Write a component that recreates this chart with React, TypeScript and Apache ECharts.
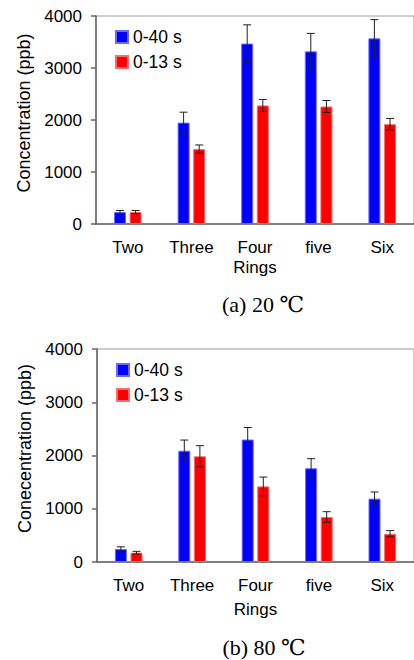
import React, { useEffect, useRef } from "react";
import * as echarts from "echarts";

const categories = ["Two", "Three", "Four", "five", "Six"];
const yTicks = [0, 1000, 2000, 3000, 4000];

const topBlue = [230, 1950, 3470, 3320, 3570];
const topBlueErr = [30, 200, 360, 345, 360];
const topRed = [230, 1440, 2280, 2260, 1920];
const topRedErr = [30, 80, 115, 115, 110];

const botBlue = [245, 2090, 2300, 1760, 1190];
const botBlueErr = [40, 200, 225, 180, 125];
const botRed = [175, 1985, 1420, 845, 530];
const botRedErr = [25, 200, 175, 100, 60];

const seriesNames = ["0-40 s", "0-13 s"];
const yNames = ["Concentration (ppb)", "Conecentration (ppb)"];
const xName = "Rings";
const captions = ["(a) 20 \u2103", "(b) 80 \u2103"];

const BLUE = "#0000ff";
const RED = "#ff0000";
const SANS = "'Liberation Sans', Arial, sans-serif";
const SERIF = "'Liberation Serif', 'DejaVu Serif', serif";
const BAR_W = 12;
const OFFSET = 7.8;

function errSeries(gridIdx: number, vals: number[], errs: number[], offset: number) {
  return {
    type: "custom",
    xAxisIndex: gridIdx,
    yAxisIndex: gridIdx,
    z: 10,
    silent: true,
    encode: { x: 0, y: 1 },
    data: vals.map((v, i) => [i, v, errs[i]]),
    renderItem: (params: any, api: any) => {
      const i = api.value(0);
      const v = api.value(1);
      const e = api.value(2);
      const hi = api.coord([i, v + e]);
      const lo = api.coord([i, v - e]);
      const x = hi[0] + offset;
      const st = { stroke: "#222", lineWidth: 1 };
      return {
        type: "group",
        children: [
          { type: "line", shape: { x1: x, y1: hi[1], x2: x, y2: lo[1] }, style: st },
          { type: "line", shape: { x1: x - 4, y1: hi[1], x2: x + 4, y2: hi[1] }, style: st },
          { type: "line", shape: { x1: x - 4, y1: lo[1], x2: x + 4, y2: lo[1] }, style: st },
        ],
      };
    },
  };
}

function barSeries(gridIdx: number, name: string, vals: number[], color: string, border: string) {
  return {
    type: "bar",
    name,
    xAxisIndex: gridIdx,
    yAxisIndex: gridIdx,
    data: vals,
    barWidth: BAR_W,
    barGap: "30%",
    itemStyle: { color, borderColor: border, borderWidth: 1 },
  };
}

export default function App() {
  const ref = useRef<HTMLDivElement>(null);
  useEffect(() => {
    if (!ref.current) return;
    const chart = echarts.init(ref.current, null, { renderer: "svg" });
    const axisLine = { show: true, lineStyle: { color: "#666", width: 1.5 } };
    const grids = [
      { left: 96, top: 16, width: 325, height: 208 },
      { left: 97, top: 349, width: 322, height: 213 },
    ];
    const nameGaps = [35, 39];
    const option: any = {
      animation: false,
      backgroundColor: "#fff",
      textStyle: { fontFamily: SANS },
      grid: grids.map((g) => ({ ...g, show: true, borderColor: "#999", borderWidth: 1, backgroundColor: "transparent" })),
      legend: [
        { left: 115, top: 28, orient: "vertical", padding: 0 },
        { left: 116, top: 361, orient: "vertical", padding: 0 },
      ].map((l) => ({
        ...l,
        data: seriesNames,
        itemWidth: 12,
        itemHeight: 12,
        itemGap: 7,
        icon: "rect",
        textStyle: { fontSize: 17.5, color: "#000", fontFamily: SANS, lineHeight: 17 },
      })),
      xAxis: [0, 1].map((gi) => ({
        type: "category",
        gridIndex: gi,
        data: categories,
        axisLine,
        axisTick: { show: false },
        axisLabel: { fontSize: 17, color: "#000", margin: 15, fontFamily: SANS },
        name: xName,
        nameLocation: "middle",
        nameGap: nameGaps[gi],
        nameTextStyle: { fontSize: 17, color: "#000", fontFamily: SANS },
      })),
      yAxis: [0, 1].map((gi) => ({
        type: "value",
        gridIndex: gi,
        min: yTicks[0],
        max: yTicks[yTicks.length - 1],
        interval: 1000,
        axisLine,
        axisTick: { show: true, length: 5, lineStyle: { color: "#666", width: 1.5 } },
        splitLine: { show: false },
        axisLabel: { fontSize: 17, color: "#000", margin: 14, fontFamily: SANS, formatter: (v: number) => String(v) },
        name: yNames[gi],
        nameLocation: "middle",
        nameRotate: 90,
        nameGap: 62,
        nameTextStyle: { fontSize: 18, color: "#000", fontFamily: SANS, padding: [0, 0, 0, 14] },
      })),
      series: [
        barSeries(0, seriesNames[0], topBlue, BLUE, "#6a6aff"),
        barSeries(0, seriesNames[1], topRed, RED, "#ff6a6a"),
        barSeries(1, seriesNames[0], botBlue, BLUE, "#6a6aff"),
        barSeries(1, seriesNames[1], botRed, RED, "#ff6a6a"),
        errSeries(0, topBlue, topBlueErr, -OFFSET),
        errSeries(0, topRed, topRedErr, OFFSET),
        errSeries(1, botBlue, botBlueErr, -OFFSET),
        errSeries(1, botRed, botRedErr, OFFSET),
      ],
      graphic: [
        { type: "text", x: 263, y: 304, style: { text: captions[0], fill: "#000", font: `22px ${SERIF}`, textAlign: "center", textVerticalAlign: "middle" } },
        { type: "text", x: 264, y: 647, style: { text: captions[1], fill: "#000", font: `22px ${SERIF}`, textAlign: "center", textVerticalAlign: "middle" } },
      ],
    };
    chart.setOption(option);
    return () => chart.dispose();
  }, []);
  return (
    <div style={{ position: "fixed", left: 0, top: 0, width: 414, height: 660, overflow: "hidden", background: "#fff" }}>
      <div ref={ref} style={{ width: 414, height: 660 }} />
    </div>
  );
}
